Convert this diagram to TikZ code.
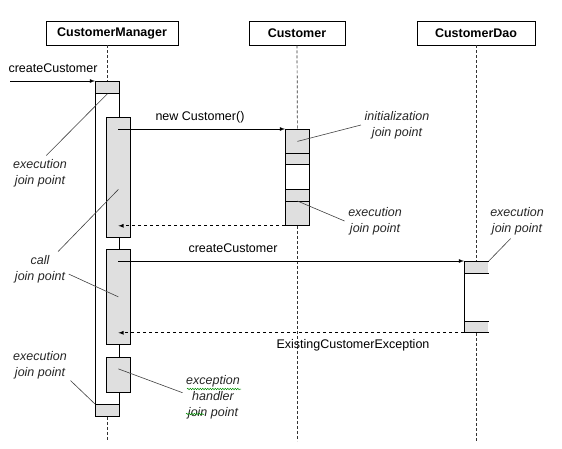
\documentclass[tikz,border=0pt]{standalone}
\usepackage{fontspec}
\setmainfont{Liberation Sans}
\usetikzlibrary{decorations.pathmorphing}

\begin{document}
\begin{tikzpicture}[x=1pt,y=-1pt,>=latex,line width=0.8pt,
    every node/.style={font=\fontsize{12.5}{16}\selectfont},
    obj/.style={draw,minimum height=24pt,inner sep=0pt,font=\fontsize{12.5}{16}\selectfont\bfseries},
    bar/.style={draw,fill=gray!25,inner sep=0pt,minimum width=24pt,anchor=north west},
    life/.style={densely dashed,line width=0.7pt,black!80},
    note/.style={align=center,text=black!85,font=\fontsize{12.5}{16}\selectfont\itshape},
    pointer/.style={line width=0.6pt,black!75},
    squiggle/.style={decorate,decoration={snake,amplitude=0.7pt,segment length=2.5pt},green!55!black,line width=0.5pt}]
    \useasboundingbox (0,0) rectangle (562,449);
    \node[obj,minimum width=132pt] (cm) at (112,33) {CustomerManager};
    \node[obj,minimum width=96pt] (cu) at (297,33) {Customer};
    \node[obj,minimum width=118pt] (dao) at (476,33) {CustomerDao};
    \node[bar,fill=white,minimum height=335pt] (cmact) at (95,81) {};
    \node[bar,minimum height=12pt] (cmtop) at (95,81) {};
    \node[bar,minimum height=12pt] (cmbot) at (95,404) {};
    \node[bar,minimum height=120pt] (a1) at (106,117) {};
    \node[bar,minimum height=95pt] (a2) at (106,249) {};
    \node[bar,minimum height=35pt] (a3) at (106,357) {};
    \node[bar,minimum height=24pt] (c1) at (285,129) {};
    \node[bar,minimum height=11pt] (c2) at (285,153) {};
    \node[bar,fill=white,minimum height=25pt] (c3) at (285,164) {};
    \node[bar,minimum height=12pt] (c4) at (285,189) {};
    \node[bar,minimum height=24pt] (c5) at (285,201) {};
    \node[inner sep=0pt,minimum width=24pt,minimum height=71pt,anchor=north west,fill=white] (dact) at (464,261) {};
    \fill[gray!25] (dact.north west) rectangle ++(24,12);
    \fill[gray!25] (dact.south west) rectangle ++(24,-11);
    \draw (dact.north east) -- (dact.north west) -- (dact.south west) -- (dact.south east);
    \draw ([yshift=-12pt]dact.north west) -- ([yshift=-12pt]dact.north east);
    \draw ([yshift=11pt]dact.south west) -- ([yshift=11pt]dact.south east);
    \draw[life] (cm.south -| cmtop.north) -- (cmtop.north);
    \draw[life] (cmbot.south) -- ++(0,24);
    \draw[life] (cu.south) -- (c1.north);
    \draw[life] (c5.south) -- ++(0,215);
    \draw[life] (dao.south -| dact.north) -- (dact.north);
    \draw[life] (dact.south) -- ++(0,108);
    \coordinate (start) at (10,81);
    \draw[->] (start) -- (cmtop.north west);
    \node (lcreate) at (53,68) {createCustomer};
    \draw[->] (a1.center |- c1.north west) -- (c1.north west);
    \node (lnew) at (200,117) {new Customer()};
    \draw[->,dashed] (c5.south west) -- (c5.south west -| a1.center);
    \draw[->] (a2.center |- dact.north west) -- (dact.north west);
    \node (lcall) at (233,248) {createCustomer};
    \draw[->,dashed] (dact.south west) -- (dact.south west -| a2.center);
    \node (lexc) at (353,345) {ExistingCustomerException};
    \node[note] (n1) at (40,173) {execution\\join point};
    \node[note] (n2) at (40,269) {call\\join point};
    \node[note] (n3) at (40,365) {execution\\join point};
    \node[note] (n4) at (213,397) {exception\\handler\\join point};
    \node[note] (n5) at (397,125) {initialization\\join point};
    \node[note] (n6) at (375,221) {execution\\join point};
    \node[note] (n7) at (517,221) {execution\\join point};
    \draw[pointer] (n1.70) -- (cmtop.south);
    \draw[pointer] (n2.44) -- ([yshift=-12pt]a1.center);
    \draw[pointer] (n2.-10) -- (a2.center);
    \draw[pointer] (n3.-27) -- (cmbot.north west);
    \draw[pointer] (n4.172) -- ([yshift=6pt]a3.center);
    \draw[pointer] (n5.west) -- (c1.center);
    \draw[pointer] (n6.west) -- (c5.north);
    \draw[pointer] (n7.-110) -- (dact.north east);
    \draw[squiggle] (187,389) -- (241,389);
    \draw[squiggle] (186,414) -- (204,414);
\end{tikzpicture}
\end{document}
